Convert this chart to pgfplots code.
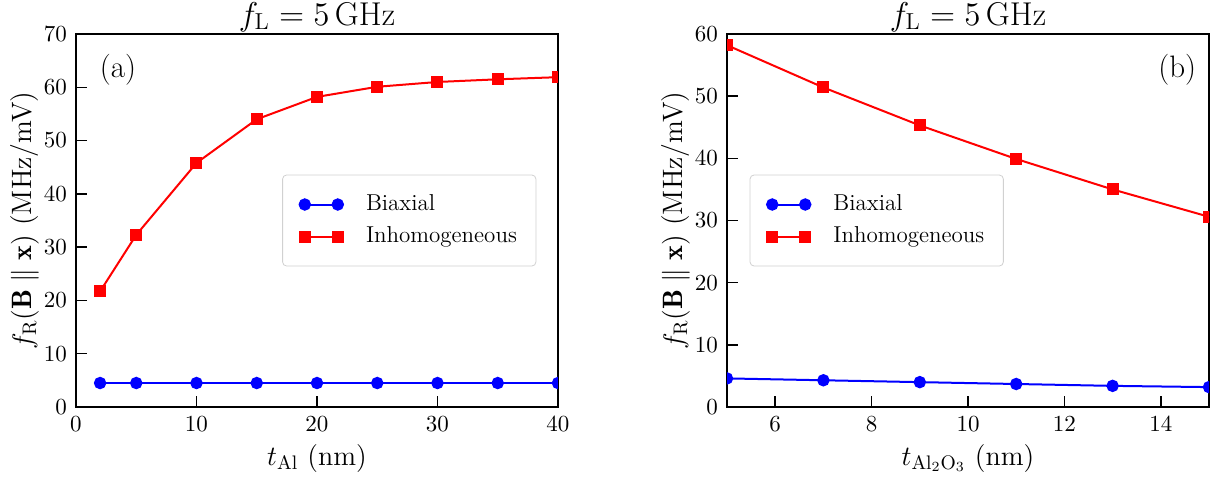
\RequirePackage{fix-cm}
\documentclass[border=0pt]{standalone}
\usepackage{fontspec}
\usepackage{pgfplots}
\pgfplotsset{compat=1.18}

\pgfplotstableread{
x   bi   inh
2   4.5  21.7
5   4.5  32.3
10  4.5  45.8
15  4.5  54.0
20  4.5  58.2
25  4.5  60.1
30  4.5  61.0
35  4.5  61.5
40  4.5  61.9
}\dataA

\pgfplotstableread{
x   bi   inh
5   4.6  58.2
7   4.3  51.4
9   4.0  45.3
11  3.7  39.9
13  3.4  35.0
15  3.2  30.6
}\dataB

\pgfplotsset{
  panel/.style={
    width=241pt, height=186.5pt, scale only axis,
    axis line style={line width=0.75pt},
    tick align=inside, xtick pos=bottom, ytick pos=left,
    major tick length=5.3pt,
    every tick/.style={black, line width=0.75pt},
    tick label style={font=\fontsize{11.5}{13}\selectfont},
    xticklabel style={yshift=-1.5pt},
    yticklabel style={xshift=-1pt},
    every axis x label/.style={at={(axis description cs:0.5,0)}, anchor=base, yshift=-29pt, font=\fontsize{14}{16}\selectfont},
    every axis y label/.style={at={(axis description cs:-0.106,0.5)}, rotate=90, anchor=center, font=\fontsize{14}{16}\selectfont},
    every axis title/.style={at={(axis description cs:0.5,1)}, anchor=base, yshift=4.5pt, font=\fontsize{16.5}{19}\selectfont},
    title={$f_\mathrm{L} = 5\,\mathrm{GHz}$},
    ylabel={$f_\mathrm{R}(\mathbf{B}\parallel\mathbf{x})$ (MHz/mV)},
    ymin=0,
    clip marker paths=true,
    legend cell align=left,
    legend image code/.code={\draw[#1] plot coordinates {(0pt,0pt) (16.5pt,0pt)};},
    legend style={font=\fontsize{11.5}{13}\selectfont, draw=black!18, fill=white, rounded corners=2pt,
      inner xsep=8.5pt, inner ysep=8.5pt, row sep=3.5pt, column sep=10.5pt,
      nodes={inner sep=1pt, text height=8pt, text depth=2.5pt}},
    bi/.style={blue, line width=1pt, mark=*, mark size=2.6pt, mark options={solid, fill=blue}},
    inh/.style={red, line width=1pt, mark=square*, mark size=2.5pt, mark options={solid, fill=red}},
  }
}

\begin{document}
\begin{tikzpicture}
\begin{axis}[panel, name=a, at={(0,0)}, anchor=south west,
  xmin=0, xmax=40, xtick={0,10,20,30,40},
  ymax=70, ytick={0,10,...,70},
  xlabel={$t_\mathrm{Al}$ (nm)},
  legend style={at={(axis description cs:0.955,0.5)}, anchor=east}]
\addplot[bi] table[x=x, y=bi] {\dataA};
\addlegendentry{Biaxial}
\addplot[inh] table[x=x, y=inh] {\dataA};
\addlegendentry{Inhomogeneous}
\node[font=\fontsize{15.5}{18}\selectfont] at (axis description cs:0.087,0.903) {(a)};
\end{axis}
\begin{axis}[panel, name=b, at={(325.5pt,0)}, anchor=south west,
  xmin=5, xmax=15, xtick={6,8,10,12,14},
  ymax=60, ytick={0,10,...,60},
  xlabel={$t_{\mathrm{Al_2O_3}}$ (nm)},
  legend style={at={(axis description cs:0.047,0.5)}, anchor=west}]
\addplot[bi] table[x=x, y=bi] {\dataB};
\addlegendentry{Biaxial}
\addplot[inh] table[x=x, y=inh] {\dataB};
\addlegendentry{Inhomogeneous}
\node[font=\fontsize{15.5}{18}\selectfont] at (axis description cs:0.934,0.903) {(b)};
\end{axis}
\pgfresetboundingbox
\path[use as bounding box] (-38pt,-35.5pt) rectangle (570.5pt,203.5pt);
\end{tikzpicture}
\end{document}
